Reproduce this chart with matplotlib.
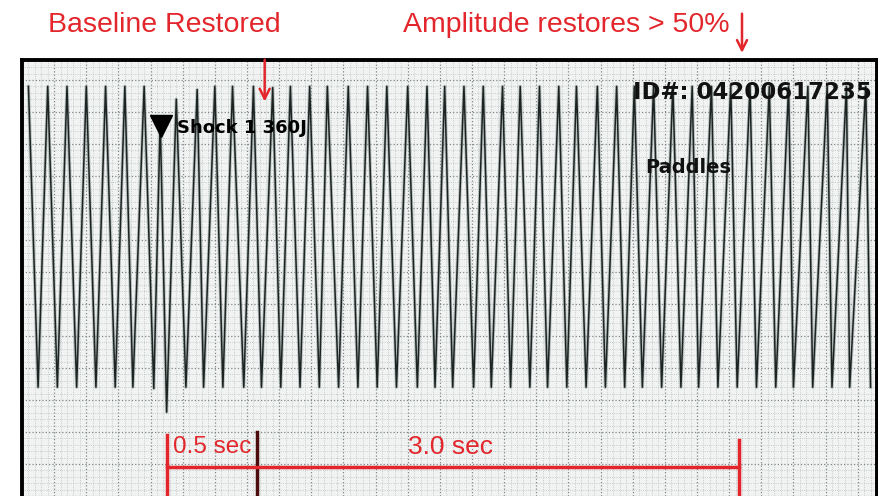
import numpy as np
import matplotlib
matplotlib.use("Agg")
import matplotlib.pyplot as plt
from matplotlib.ticker import MultipleLocator

# ECG strip, time in seconds (25 mm/s paper), amplitude in mV (10 mm/mV)
peak_t = [0.04, 0.16, 0.28, 0.40, 0.52, 0.64, 0.76, 0.86, 0.96, 1.09,
          1.20, 1.31, 1.44, 1.56, 1.67, 1.79, 1.90, 2.03, 2.15, 2.27,
          2.40, 2.52, 2.63, 2.75, 2.87, 2.99, 3.10, 3.22, 3.34, 3.45,
          3.58, 3.70, 3.81, 3.93, 4.05, 4.17, 4.29, 4.41, 4.53, 4.65,
          4.77, 4.89, 5.01, 5.13, 5.25]
peak_mv = [2.40, 2.40, 2.40, 2.40, 2.40, 2.40, 2.40, 1.88, 2.20, 2.35,
           2.40, 2.40, 2.40, 2.38, 2.40, 2.40, 2.40, 2.40, 2.40, 2.40,
           2.40, 2.40, 2.40, 2.40, 2.40, 2.40, 2.40, 2.40, 2.40, 2.40,
           2.40, 2.40, 2.40, 2.40, 2.40, 2.40, 2.40, 2.40, 2.40, 2.40,
           2.40, 2.40, 2.40, 2.40, 2.40]
trough_t = [0.10, 0.22, 0.34, 0.46, 0.58, 0.69, 0.82, 0.90, 1.02, 1.13,
            1.25, 1.38, 1.49, 1.61, 1.73, 1.85, 1.97, 2.09, 2.21, 2.33,
            2.46, 2.57, 2.68, 2.81, 2.92, 3.04, 3.16, 3.27, 3.39, 3.51,
            3.63, 3.75, 3.86, 3.98, 4.10, 4.21, 4.33, 4.45, 4.57, 4.69,
            4.80, 4.92, 5.04, 5.15, 5.28]
trough_mv = [-2.30, -2.30, -2.30, -2.30, -2.30, -2.30, -2.32, -2.69, -2.30, -2.30,
             -2.30, -2.30, -2.30, -2.30, -2.30, -2.30, -2.30, -2.30, -2.30, -2.30,
             -2.30, -2.30, -2.30, -2.30, -2.30, -2.30, -2.30, -2.30, -2.30, -2.30,
             -2.30, -2.30, -2.30, -2.30, -2.30, -2.30, -2.30, -2.30, -2.30, -2.30,
             -2.30, -2.30, -2.30, -2.30, -2.30]

t_shock = 0.90
t_baseline = 1.46
t_amplitude = 4.46

red = '#e3262c'

fig = plt.figure(figsize=(8.79, 4.96), dpi=100)
ax = fig.add_axes([22 / 879, 0.0, 855 / 879, 436 / 496])
ax.set_facecolor('#f1f3f2')
ax.set_xlim(0, 5.32)
ax.set_ylim(-4.0, 2.8125)

# ecg paper grid
ax.xaxis.set_major_locator(MultipleLocator(0.2))
ax.xaxis.set_minor_locator(MultipleLocator(0.04))
ax.yaxis.set_major_locator(MultipleLocator(0.5))
ax.yaxis.set_minor_locator(MultipleLocator(0.1))
ax.grid(which='major', color='#7f8786', ls=':', lw=0.9)
ax.grid(which='minor', color='#b9bfbe', ls=':', lw=0.6)
ax.tick_params(which='both', length=0, labelbottom=False, labelleft=False)
ax.set_axisbelow(True)
for s in ['top', 'left', 'right']:
    ax.spines[s].set_linewidth(2.8)
    ax.spines[s].set_color('black')
ax.spines['bottom'].set_visible(False)

# waveform: alternate peaks and troughs
t = np.concatenate([peak_t, trough_t])
v = np.concatenate([peak_mv, trough_mv])
order = np.argsort(t)
ax.plot(t[order], v[order], color='#8a9896', lw=2.4, alpha=0.55, zorder=2)
ax.plot(t[order], v[order], color='#1c2322', lw=1.1, zorder=3)

# monitor printout text
ax.plot([t_shock - 0.035], [1.78], marker='v', color='black', ms=16, zorder=4)
ax.text(t_shock + 0.065, 1.75, 'Shock 1 360J', fontsize=13, fontweight='bold',
        family='DejaVu Sans', color='black', va='center', ha='left', zorder=5)
ax.text(3.80, 2.31, 'ID#: 04200617235', fontsize=16.5, fontweight='bold',
        family='DejaVu Sans', color='#111111', va='center', ha='left', zorder=5)
ax.text(3.88, 1.13, 'Paddles', fontsize=14, fontweight='bold',
        family='DejaVu Sans', color='#111111', va='center', ha='left', zorder=5)

# timing brackets
ax.plot([t_shock, t_shock], [-3.05, -4.0], color=red, lw=2.5, zorder=6)
ax.plot([t_baseline, t_baseline], [-3.0, -4.0], color='#4a0c0c', lw=2.5, zorder=6)
ax.plot([t_amplitude, t_amplitude], [-3.12, -4.0], color=red, lw=2.5, zorder=6)
ax.plot([t_shock, t_amplitude], [-3.55, -3.55], color=red, lw=2.5, zorder=6)
ax.text(t_shock + 0.04, -3.23, '0.5 sec', color=red, fontsize=17.5,
        family='Liberation Sans', va='center', ha='left', zorder=7)
ax.text(2.40, -3.23, '3.0 sec', color=red, fontsize=19,
        family='Liberation Sans', va='center', ha='left', zorder=7)

# arrows
ax.annotate('', xy=(t_baseline + 0.05, 2.12), xytext=(t_baseline + 0.05, 2.86),
            arrowprops=dict(arrowstyle='->', color=red, lw=1.8, mutation_scale=18),
            annotation_clip=False, zorder=8)
ax.annotate('', xy=(t_amplitude + 0.02, 2.88), xytext=(t_amplitude + 0.02, 3.58),
            arrowprops=dict(arrowstyle='->', color=red, lw=1.8, mutation_scale=18),
            annotation_clip=False, zorder=8)

fig.text(48 / 879, 1 - 25 / 496, 'Baseline Restored', color=red, fontsize=20.5,
         family='Liberation Sans', va='center', ha='left')
fig.text(403 / 879, 1 - 25 / 496, 'Amplitude restores > 50%', color=red, fontsize=20.5,
         family='Liberation Sans', va='center', ha='left')

fig.savefig('out.png', dpi=100)
